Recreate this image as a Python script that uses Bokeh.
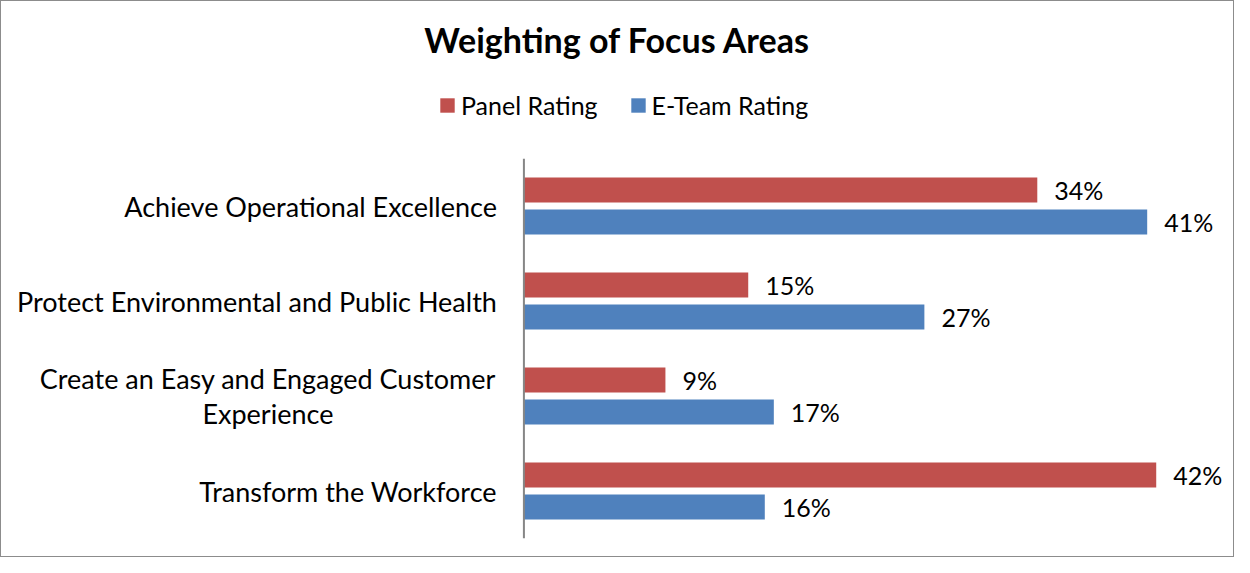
from bokeh.plotting import figure
from bokeh.layouts import column
from bokeh.models import (ColumnDataSource, LabelSet, Label, Legend, LegendItem, FactorRange,
                          Range1d, Span)
from bokeh.core.properties import value
from bokeh.transform import dodge
from bokeh.embed import file_html
from bokeh.resources import INLINE

# ---- data ----
categories = [
    "Achieve Operational Excellence",
    "Protect Environmental and Public Health",
    "Create an Easy and Engaged Customer\nExperience",
    "Transform the Workforce",
]
panel_rating = [34.1, 14.9, 9.4, 42.0]
eteam_rating = [41.4, 26.6, 16.6, 16.0]
series_names = ["Panel Rating", "E-Team Rating"]
title_text = "Weighting of Focus Areas"

FONT = "Lato"
RED = "#C0504D"
BLUE = "#4F81BD"
W = 1232
TOP_H = 157
BOT_H = 398

wrapped = ["\n" in c for c in categories]
src = ColumnDataSource(dict(
    cat=categories,
    panel=panel_rating,
    eteam=eteam_rating,
    panel_lbl=[f"{round(v)}%" for v in panel_rating],
    eteam_lbl=[f"{round(v)}%" for v in eteam_rating],
    # category labels: single lines right-aligned at the axis, wrapped ones centred line by line
    line1=[c.split("\n")[0] for c in categories],
    line2=[c.split("\n")[1] if w else "" for c, w in zip(categories, wrapped)],
    cat_align=["center" if w else "right" for w in wrapped],
    cat_xoff=[-256 if w else -27 for w in wrapped],
    y1_off=[17.5 if w else 0 for w in wrapped],
))

# ---- bottom figure: bars (frame spans the label area too, axis drawn as a Span at 0) ----
p = figure(
    width=W, height=BOT_H,
    y_range=FactorRange(factors=list(reversed(categories))),
    x_range=Range1d(-34.7, 47),
    output_backend="svg", toolbar_location=None,
    x_axis_location=None, y_axis_location=None,
    min_border_left=0, min_border_right=2,
    min_border_top=0, min_border_bottom=18,
)
p.frame_align = False
p.outline_line_color = None
p.xgrid.visible = False
p.ygrid.visible = False

bh = 0.263
off = 0.168
r1 = p.hbar(y=dodge("cat", off, range=p.y_range), right="panel", left=0, height=bh,
            source=src, fill_color=RED, line_color=None)
r2 = p.hbar(y=dodge("cat", -off, range=p.y_range), right="eteam", left=0, height=bh,
            source=src, fill_color=BLUE, line_color=None)

for field, lbl, o in (("panel", "panel_lbl", off), ("eteam", "eteam_lbl", -off)):
    p.add_layout(LabelSet(x=field, y=dodge("cat", o, range=p.y_range), text=lbl, source=src,
                          x_offset=17, text_baseline="middle", text_align="left",
                          text_font=value(FONT), text_font_size="25px", text_color="#000000"))

# vertical category axis line
p.add_layout(Span(location=0, dimension="height", line_color="#868686", line_width=2))

# category labels (first and second lines)
p.add_layout(LabelSet(x=value(0), y="cat", text="line1", source=src,
                      x_offset="cat_xoff", y_offset="y1_off",
                      text_align="cat_align", text_baseline="middle",
                      text_font=value(FONT), text_font_size="27px", text_color="#000000"))
p.add_layout(LabelSet(x=value(0), y="cat", text="line2", source=src,
                      x_offset="cat_xoff", y_offset=-17.5,
                      text_align="cat_align", text_baseline="middle",
                      text_font=value(FONT), text_font_size="27px", text_color="#000000"))

# ---- top figure: title and legend ----
t = figure(width=W, height=TOP_H, output_backend="svg", toolbar_location=None,
           x_axis_location=None, y_axis_location=None, min_border=0,
           y_range=FactorRange(factors=list(reversed(categories))), x_range=Range1d(0, 1))
t.frame_align = False
t.outline_line_color = None
t.xgrid.visible = False
t.ygrid.visible = False
# hidden twins of the bar renderers, only used to give the legend its swatches
d1 = t.hbar(y="cat", right="panel", left=0, height=bh, source=src,
            fill_color=RED, line_color=None, visible=False)
d2 = t.hbar(y="cat", right="eteam", left=0, height=bh, source=src,
            fill_color=BLUE, line_color=None, visible=False)

t.add_layout(Label(x=616, y=TOP_H - 38, x_units="screen", y_units="screen", text=title_text,
                   text_align="center", text_baseline="middle", text_font=FONT,
                   text_font_size="34px", text_font_style="bold", text_color="#000000"))

legend = Legend(items=[LegendItem(label=series_names[0], renderers=[d1]),
                       LegendItem(label=series_names[1], renderers=[d2])],
                orientation="horizontal", location=(437, 38),
                glyph_width=18, glyph_height=18, label_standoff=5, spacing=31,
                padding=0, margin=0, border_line_color=None, background_fill_alpha=0,
                inactive_fill_alpha=0, click_policy="none",
                label_text_font=FONT, label_text_font_size="25px", label_text_color="#000000")
t.add_layout(legend)

layout = column(t, p, spacing=0, styles={"border": "1px solid #8c8c8c"})
open("out.html", "w").write(file_html(layout, INLINE))
